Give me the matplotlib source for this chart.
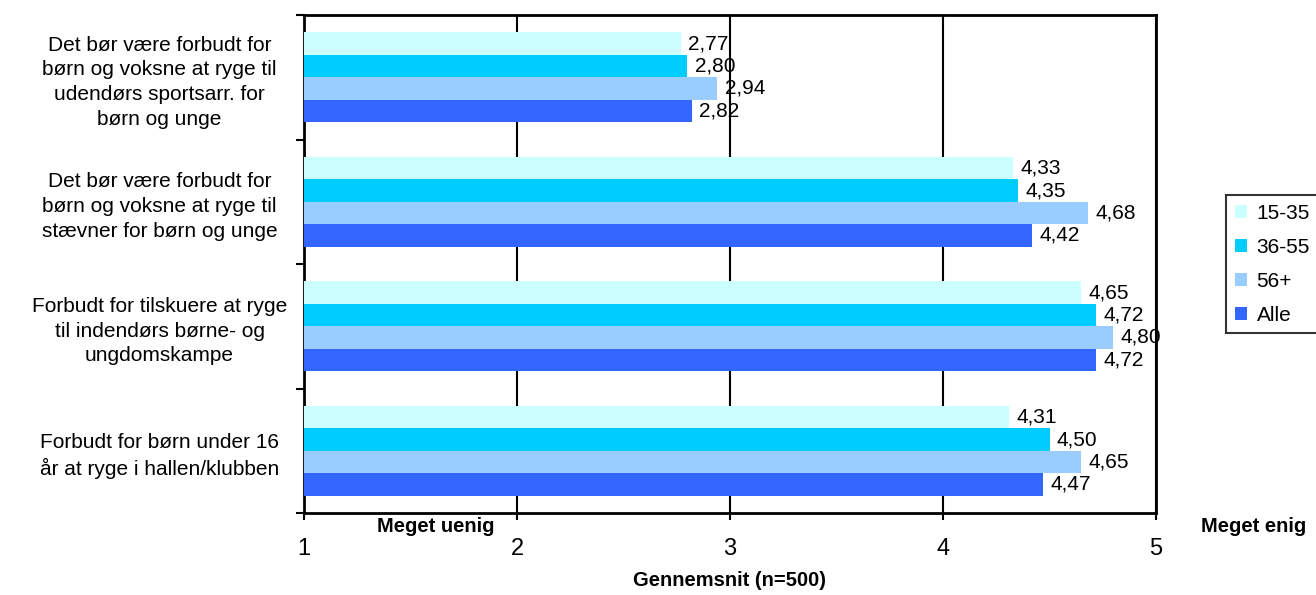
import matplotlib
matplotlib.use("Agg")
import matplotlib.pyplot as plt
import numpy as np

plt.rcParams['font.family'] = ['Liberation Sans', 'DejaVu Sans']

categories = [
    "Det bør være forbudt for\nbørn og voksne at ryge til\nudendørs sportsarr. for\nbørn og unge",
    "Det bør være forbudt for\nbørn og voksne at ryge til\nstævner for børn og unge",
    "Forbudt for tilskuere at ryge\ntil indendørs børne- og\nungdomskampe",
    "Forbudt for børn under 16\når at ryge i hallen/klubben",
]
series_names = ["15-35", "36-55", "56+", "Alle"]
v_15_35 = [2.77, 4.33, 4.65, 4.31]
v_36_55 = [2.80, 4.35, 4.72, 4.50]
v_56 = [2.94, 4.68, 4.80, 4.65]
v_alle = [2.82, 4.42, 4.72, 4.47]
series = [v_15_35, v_36_55, v_56, v_alle]
colors = ["#CCFFFF", "#00CCFF", "#99CCFF", "#3366FF"]

fig = plt.figure(figsize=(13.16, 5.95), dpi=100)
ax = fig.add_axes([304/1316, 1 - 513/595, (1156-304)/1316, (513-15)/595])

n = len(categories)
bar_h = 0.18
for si, (vals, col, name) in enumerate(zip(series, colors, series_names)):
    ys = np.arange(n) + (si - 1.5) * bar_h
    ax.barh(ys, np.array(vals) - 1, left=1, height=bar_h, color=col, label=name, zorder=3)
    for y, v in zip(ys, vals):
        ax.text(v + 0.035, y, f"{v:.2f}".replace(".", ","), va="center", ha="left",
                fontsize=15, zorder=5)

ax.set_xlim(1, 5)
ax.set_ylim(n - 0.5, -0.5)
ax.set_xticks([1, 2, 3, 4, 5])
ax.set_xticklabels(["1", "2", "3", "4", "5"], fontsize=17)
ax.tick_params(axis='x', direction='out', length=5, width=1.5, pad=13)
ax.set_yticks(np.arange(n))
ax.set_yticklabels(categories, fontsize=15, linespacing=1.38, ha='center')
ax.set_yticks(np.arange(n + 1) - 0.5, minor=True)
ax.tick_params(axis='y', which='major', length=0, pad=104)
ax.tick_params(axis='y', which='minor', direction='out', length=6, width=1.5)
for s in ax.spines.values():
    s.set_linewidth(2)
ax.xaxis.grid(True, color='black', linewidth=1.5, zorder=0)
ax.set_axisbelow(True)

fig.text(730/1316, 1 - 580/595, "Gennemsnit (n=500)", fontsize=14.5, fontweight='bold', ha='center', va='center')
fig.text(436/1316, 1 - 527/595, "Meget uenig", fontsize=14.5, fontweight='bold', ha='center', va='center')
fig.text(1254/1316, 1 - 527/595, "Meget enig", fontsize=14.5, fontweight='bold', ha='center', va='center')

leg = ax.legend(loc='upper left', bbox_to_anchor=(1226/1316, 1 - 195/595), bbox_transform=fig.transFigure,
                borderaxespad=0, fontsize=15, frameon=True, fancybox=False, edgecolor='black',
                handlelength=0.6, handleheight=0.6, handletextpad=0.45, labelspacing=0.72, borderpad=0.42)
leg.get_frame().set_linewidth(1.5)

fig.savefig("out.png", dpi=100)
